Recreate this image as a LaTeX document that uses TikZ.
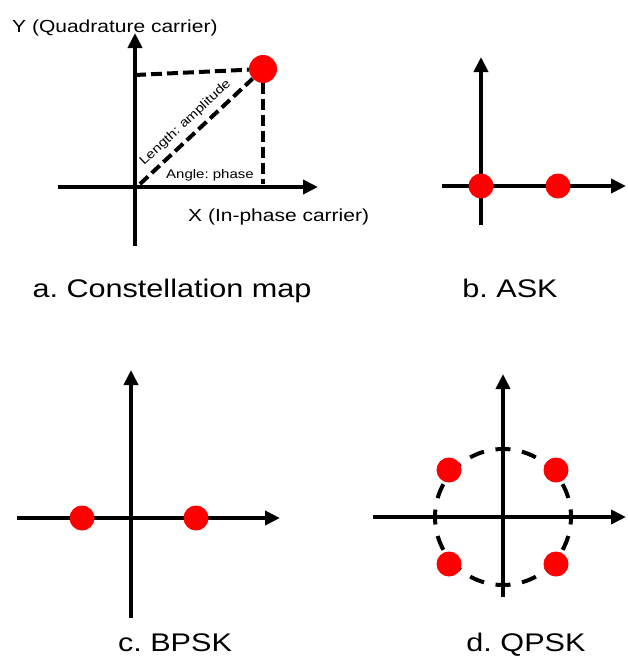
\documentclass[tikz,border=0pt]{standalone}
\usepackage{fontspec}
\setmainfont{Liberation Sans}[FakeStretch=1.2]
\usetikzlibrary{arrows.meta}
\frenchspacing

\begin{document}
\begin{tikzpicture}[
  x=1pt, y=-1pt,
  font=\fontsize{17.5}{21}\selectfont,
  axis/.style={line width=4.3pt, -{Triangle[length=15pt,width=14pt]}},
  guide/.style={line width=4pt, dash pattern=on 11pt off 5pt},
  ring/.style={line width=4pt, dash pattern=on 15pt off 11.7pt, dash phase=7.5pt},
  dot/.style={circle, fill=red, inner sep=0pt, minimum size=25pt},
  caption/.style={font=\fontsize{25.5}{30}\selectfont, inner sep=0pt, anchor=base},
  lbl/.style={inner sep=0pt, anchor=base west},
  small/.style={font=\fontsize{12.5}{14}\selectfont}
]
\useasboundingbox (0,0) rectangle (627,656);

% a. constellation map
\coordinate (a-xl) at (58,187);
\coordinate (a-xr) at (318,187);
\coordinate (a-yb) at (135,246);
\coordinate (a-yt) at (135,33);
\coordinate (a-o) at (140,184);
\coordinate (a-yq) at (135,75);
\coordinate (a-xq) at (263,184);
\draw[axis] (a-xl) -- (a-xr);
\draw[axis] (a-yb) -- (a-yt);
\node[dot, minimum size=28pt] (pa) at (263,69) {};
\draw[guide] (a-yq) -- (pa);
\draw[guide] (pa) -- (a-xq);
\draw[guide] (a-o) -- (pa);
\node[lbl] (ylab) at (12,32) {Y (Quadrature carrier)};
\node[lbl] (xlab) at (188,221) {X (In-phase carrier)};
\node[lbl, small, rotate=43] (amp) at (144,166) {Length: amplitude};
\node[lbl, small] (phase) at (166,178) {Angle: phase};
\node[caption] (capa) at (172,297) {a. Constellation map};

% b. ASK
\coordinate (b-xl) at (442,186);
\coordinate (b-xr) at (626,186);
\coordinate (b-yb) at (481,225);
\coordinate (b-yt) at (481,57);
\draw[axis] (b-xl) -- (b-xr);
\draw[axis] (b-yb) -- (b-yt);
\node[dot] (b1) at (481,186) {};
\node[dot] (b2) at (558,186) {};
\node[caption] (capb) at (510,297) {b. ASK};

% c. BPSK
\coordinate (c-xl) at (17,518);
\coordinate (c-xr) at (280,518);
\coordinate (c-yb) at (131,618);
\coordinate (c-yt) at (131,370);
\draw[axis] (c-xl) -- (c-xr);
\draw[axis] (c-yb) -- (c-yt);
\node[dot] (c1) at (82,518) {};
\node[dot] (c2) at (196,518) {};
\node[caption] (capc) at (175,651) {c. BPSK};

% d. QPSK
\coordinate (d-xl) at (373,517);
\coordinate (d-xr) at (626,517);
\coordinate (d-yb) at (503,597);
\coordinate (d-yt) at (503,374);
\coordinate (d-o) at (503,517);
\draw[ring] (d-o) circle[radius=68];
\draw[axis] (d-xl) -- (d-xr);
\draw[axis] (d-yb) -- (d-yt);
\node[dot] (d1) at (449,470) {};
\node[dot] (d2) at (556,470) {};
\node[dot] (d3) at (449,564) {};
\node[dot] (d4) at (556,564) {};
\node[caption] (capd) at (526,651) {d. QPSK};

\end{tikzpicture}
\end{document}
